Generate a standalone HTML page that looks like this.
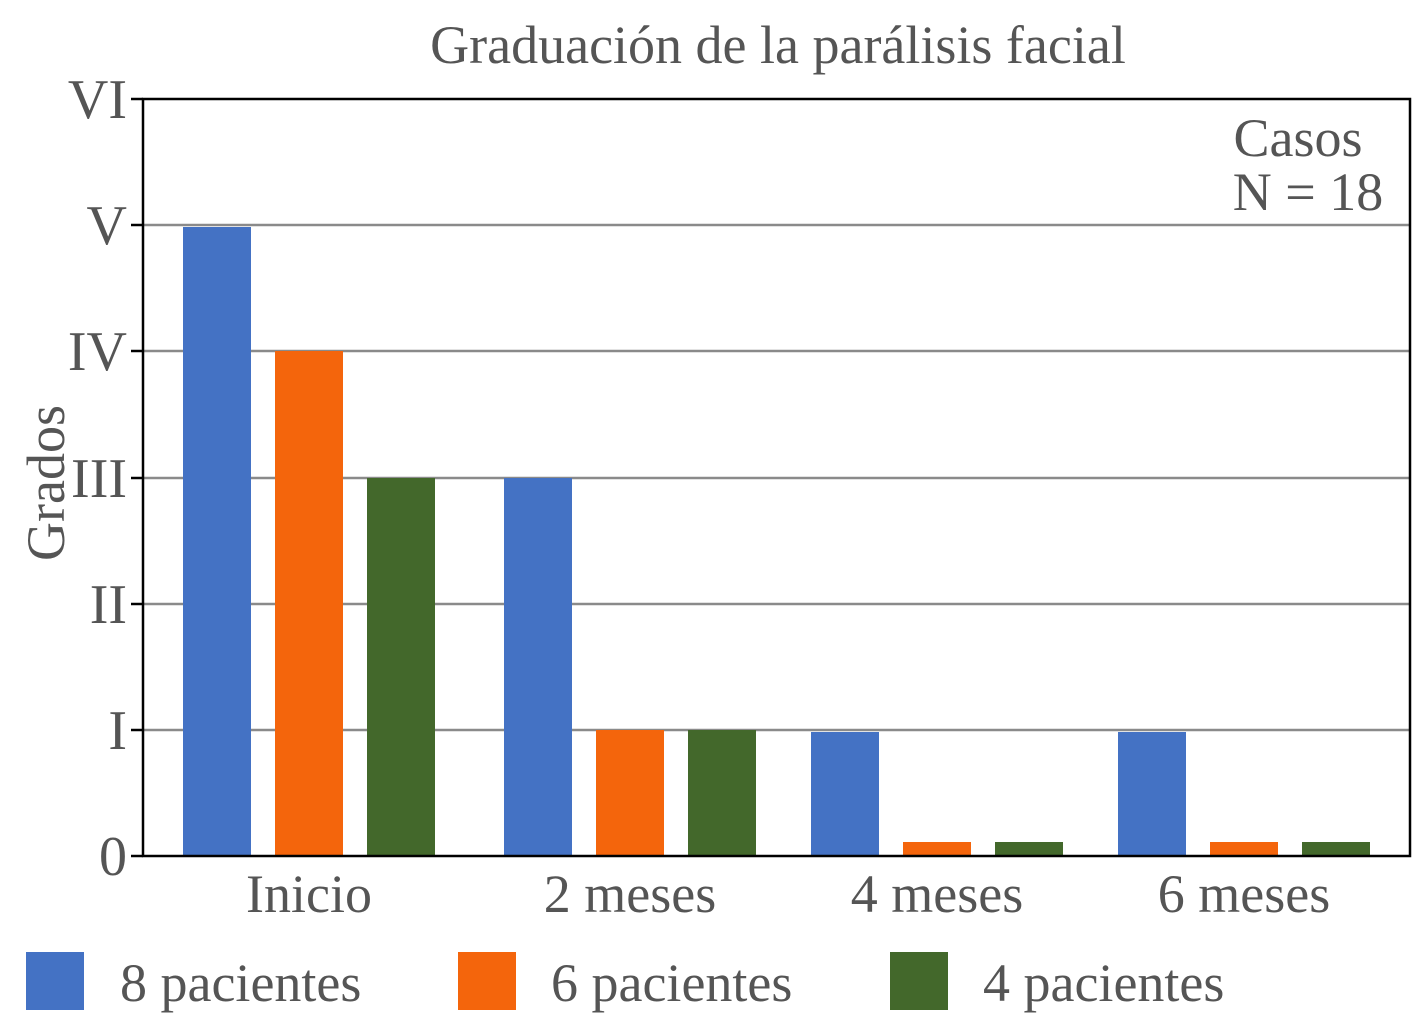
<!DOCTYPE html>
<html><head><meta charset="utf-8"><style>
html,body{margin:0;padding:0;background:#fff;}
svg{display:block;}
text{font-family:"Liberation Serif",serif;fill:#555;}
</style></head><body>
<svg width="1412" height="1024" viewBox="0 0 1412 1024" xmlns="http://www.w3.org/2000/svg">
<text x="778" y="63" font-size="54" text-anchor="middle">Graduación de la parálisis facial</text>
<g stroke="#8a8a8a" stroke-width="2.5">
<line x1="143" y1="225" x2="1410" y2="225"/>
<line x1="143" y1="351" x2="1410" y2="351"/>
<line x1="143" y1="478" x2="1410" y2="478"/>
<line x1="143" y1="604" x2="1410" y2="604"/>
<line x1="143" y1="730" x2="1410" y2="730"/>
</g>
<g stroke="#000" stroke-width="2.5">
<line x1="131" y1="99" x2="143" y2="99"/>
<line x1="131" y1="225" x2="143" y2="225"/>
<line x1="131" y1="351" x2="143" y2="351"/>
<line x1="131" y1="478" x2="143" y2="478"/>
<line x1="131" y1="604" x2="143" y2="604"/>
<line x1="131" y1="730" x2="143" y2="730"/>
<line x1="131" y1="856" x2="143" y2="856"/>
</g>
<g fill="#4472c4">
<rect x="183" y="227" width="68" height="629"/>
<rect x="504" y="478" width="68" height="378"/>
<rect x="811" y="732" width="68" height="124"/>
<rect x="1118" y="732" width="68" height="124"/>
</g>
<g fill="#f4650c">
<rect x="275" y="351" width="68" height="505"/>
<rect x="596" y="730" width="68" height="126"/>
<rect x="903" y="842" width="68" height="14"/>
<rect x="1210" y="842" width="68" height="14"/>
</g>
<g fill="#43682b">
<rect x="367" y="478" width="68" height="378"/>
<rect x="688" y="730" width="68" height="126"/>
<rect x="995" y="842" width="68" height="14"/>
<rect x="1302" y="842" width="68" height="14"/>
</g>
<rect x="143" y="99" width="1267" height="757" fill="none" stroke="#000" stroke-width="2.5"/>
<g font-size="56" text-anchor="end">
<text x="127" y="118">VI</text>
<text x="127" y="244">V</text>
<text x="127" y="370">IV</text>
<text x="127" y="497">III</text>
<text x="127" y="623">II</text>
<text x="127" y="749">I</text>
<text x="127" y="875">0</text>
</g>
<text transform="translate(64,483) rotate(-90)" font-size="54" text-anchor="middle">Grados</text>
<text x="1298" y="156" font-size="54" text-anchor="middle">Casos</text>
<text x="1308" y="210" font-size="54" text-anchor="middle">N = 18</text>
<g font-size="54" text-anchor="middle">
<text x="309" y="912">Inicio</text>
<text x="630" y="912">2 meses</text>
<text x="937" y="912">4 meses</text>
<text x="1244" y="912">6 meses</text>
</g>
<rect x="26" y="952" width="58" height="58" fill="#4472c4"/>
<rect x="458" y="952" width="58" height="58" fill="#f4650c"/>
<rect x="890" y="952" width="58" height="58" fill="#43682b"/>
<g font-size="54">
<text x="120" y="1001">8 pacientes</text>
<text x="551" y="1001">6 pacientes</text>
<text x="983" y="1001">4 pacientes</text>
</g>
</svg>
</body></html>
